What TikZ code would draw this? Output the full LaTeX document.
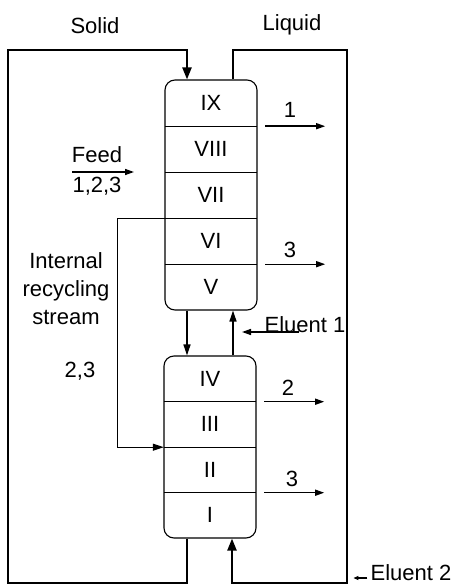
\documentclass[tikz,border=0pt]{standalone}
\usepackage{fontspec}
\setmainfont{Liberation Sans}
\usetikzlibrary{arrows.meta}
\begin{document}
\begin{tikzpicture}[x=1pt,y=-1pt,
  lbl/.style={font=\fontsize{22}{28}\selectfont, inner sep=0pt},
  col/.style={draw, line width=1.1pt, rounded corners=10pt, minimum width=92pt, inner sep=0pt},
  cell/.style={lbl, minimum width=92pt, minimum height=46pt},
  cellL/.style={lbl, minimum width=92pt, minimum height=45.5pt},
  divider/.style={line width=1.3pt},
  loopline/.style={line width=2.2pt},
  thinline/.style={line width=1.1pt},
  midline/.style={line width=1.4pt, -{Triangle[length=11pt,width=7pt]}},
  outarr/.style={line width=1.4pt, -{Triangle[length=9pt,width=6pt]}},
  bigtip/.style={-{Triangle[length=12pt,width=9pt]}},
]
\useasboundingbox (0,0) rectangle (456,585);

% columns
\node[col, minimum height=230pt] (U) at (211,195) {};
\node[col, minimum height=182pt] (L) at (210,447) {};

% upper cells
\node[cell] (c9) at (211,103) {IX};
\node[cell] (c8) at (211,149) {VIII};
\node[cell] (c7) at (211,195) {VII};
\node[cell] (c6) at (211,241) {VI};
\node[cell] (c5) at (211,287) {V};
\draw[divider] (c9.south west) -- (c9.south east);
\draw[divider] (c8.south west) -- (c8.south east);
\draw[divider] (c7.south west) -- (c7.south east);
\draw[divider] (c6.south west) -- (c6.south east);

% lower cells
\node[cellL] (c4) at (210,378.75) {IV};
\node[cellL] (c3) at (210,424.25) {III};
\node[cellL] (c2) at (210,469.75) {II};
\node[cellL] (c1) at (210,515.25) {I};
\draw[divider] (c4.south west) -- (c4.south east);
\draw[divider] (c3.south west) -- (c3.south east);
\draw[divider] (c2.south west) -- (c2.south east);

% solid loop
\coordinate (sbr) at (187,583);
\coordinate (sbl) at (8,583);
\coordinate (stl) at (8,50);
\coordinate (str) at (187,50);
\draw[loopline, bigtip] (L.south -| sbr) -- (sbr) -- (sbl) -- (stl) -- (str) -- (U.north -| str);

% liquid loop
\coordinate (ltl) at (233,50);
\coordinate (ltr) at (347,50);
\coordinate (lbr) at (347,583);
\coordinate (lbl) at (232,583);
\draw[loopline, bigtip] (U.north -| ltl) -- (ltl) -- (ltr) -- (lbr) -- (lbl) -- (L.south -| lbl);

% middle connections
\draw[midline] (U.south -| str) -- (L.north -| str);
\draw[midline] (L.north -| ltl) -- (U.south -| ltl);

% internal recycling
\draw[thinline, -{Triangle[length=11pt,width=7pt]}] (c7.south west) -- ++(-47,0) |- (c3.south west);

% labels
\node[lbl, anchor=base] (solid) at (95,34) {Solid};
\node[lbl, anchor=base] (liquid) at (292,31) {Liquid};
\node[lbl, anchor=base] (feed) at (97,163) {Feed};
\node[lbl, anchor=base] (f123) at (97,193) {1,2,3};
\coordinate (fa) at (72,172);
\coordinate (fb) at (134,172);
\draw[outarr] (fa) -- (fb);
\node[lbl, align=center] (irs) at (66,289) {Internal\\recycling\\stream};
\node[lbl, anchor=base] (r23) at (80,377) {2,3};

% outlets
\node[lbl, anchor=base] (o1) at (290,118) {1};
\draw[outarr] ([xshift=8pt]c9.south east) -- ++(60,0);
\node[lbl, anchor=base] (o3a) at (290,257) {3};
\draw[outarr] ([xshift=8pt]c6.south east) -- ++(60,0);
\node[lbl, anchor=base] (o2) at (288,395) {2};
\draw[outarr] ([xshift=8pt]c4.south east) -- ++(60,0);
\node[lbl, anchor=base] (o3b) at (292,486) {3};
\draw[outarr] ([xshift=8pt]c2.south east) -- ++(60,0);

% eluents
\node[lbl, anchor=base] (e1) at (305,332) {Eluent 1};
\draw[outarr] ([xshift=35pt]e1.base west) -- (242,332);
\node[lbl, anchor=base] (e2) at (411,580) {Eluent 2};
\draw[thinline, -{Triangle[length=5pt,width=4pt]}] ([xshift=-3pt,yshift=2pt]e2.base west) -- ++(-14,0);
\end{tikzpicture}
\end{document}
